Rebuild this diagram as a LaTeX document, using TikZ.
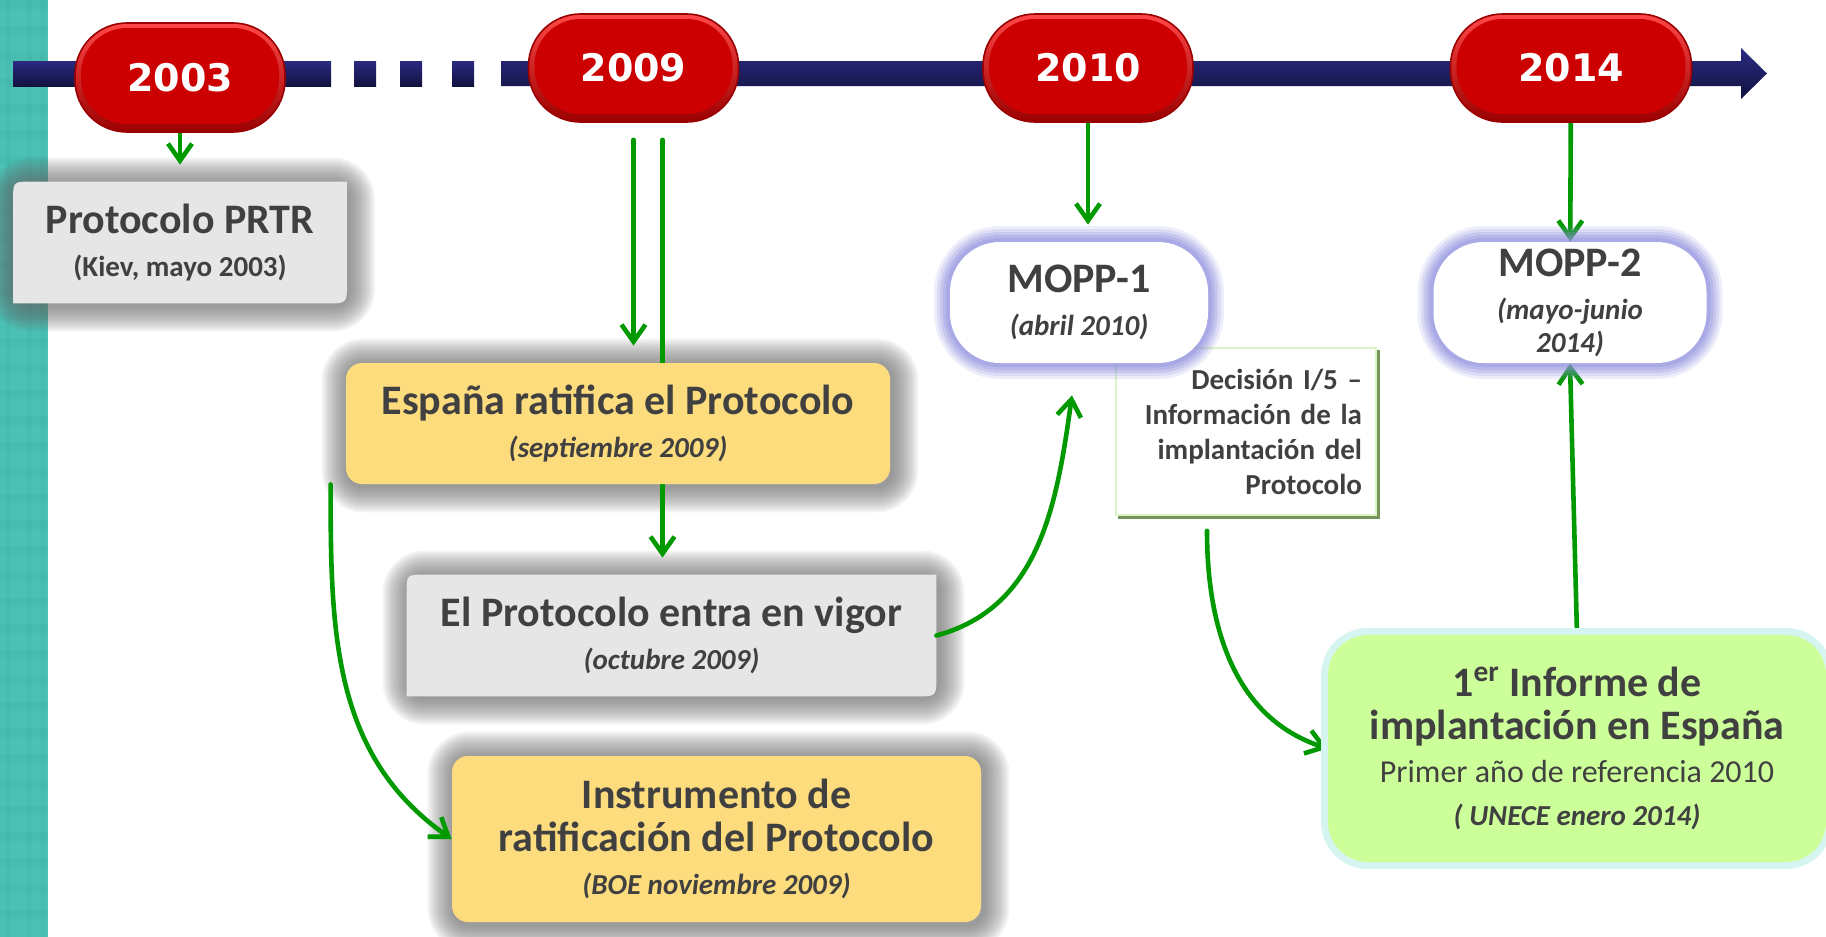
\documentclass[tikz,border=0pt]{standalone}
\usepackage{fontspec}
\setmainfont{Carlito}
\newfontfamily\yearfont{DejaVu Sans}
\usepackage{tikz}
\usetikzlibrary{arrows.meta, calc, positioning}
\usepackage{xcolor}
\definecolor{Teal}{HTML}{4BC1B5}
\definecolor{TealDark}{HTML}{3AA89C}
\definecolor{Navy}{HTML}{2A2A82}
\definecolor{DeepNavy}{HTML}{121240}
\definecolor{PillRed}{HTML}{CC0000}
\definecolor{PillLite}{HTML}{FF4848}
\definecolor{PillDark}{HTML}{9A0000}
\definecolor{Ink}{HTML}{404040}
\definecolor{Sand}{HTML}{FDDC7E}
\definecolor{Fog}{HTML}{E6E6E6}
\definecolor{Lime}{HTML}{CCFF99}
\definecolor{Halo}{HTML}{8F8FDE}
\definecolor{Mist}{HTML}{D6F4F0}
\definecolor{Leaf}{HTML}{009900}
\definecolor{Olive}{HTML}{76955A}
\definecolor{Sprout}{HTML}{DCF5C6}
\definecolor{Shade}{HTML}{666666}
\newcommand{\when}[1]{{\fontsize{14.5}{17}\selectfont\itshape #1}}
\newcommand{\where}[1]{{\fontsize{14.5}{17}\selectfont #1}}
\pgfdeclarelayer{shadow}
\pgfdeclarelayer{lines}
\pgfsetlayers{shadow,lines,main}
\tikzset{%
  year/.style={%
    rectangle,%
    rounded corners=26pt,%
    inner sep=0pt,%
    minimum width=105pt,%
    minimum height=54pt,%
    draw=PillDark,%
    line width=0.8pt,%
    top color=PillLite,%
    bottom color=PillDark,%
    path picture={%
      \fill[PillRed, rounded corners=23pt]
        ([shift={(3pt,-2.5pt)}]path picture bounding box.north west)
        rectangle
        ([shift={(-3pt,4pt)}]path picture bounding box.south east);%
    },%
    text=white,%
    font={\yearfont\bfseries\fontsize{19}{19}\selectfont},%
  },
  plate/.style={%
    rectangle,%
    inner sep=0pt,%
    align=center,%
    text=Ink,%
    font={\bfseries\fontsize{21}{21.5}\selectfont},%
  },
  sandbox/.style={%
    plate,%
    fill=Sand,%
    rounded corners=8pt,%
  },
  moppbox/.style={%
    plate,%
    fill=white,%
    rounded corners=25pt,%
    preaction={draw=Halo, line width=16pt, opacity=0.15},%
    preaction={draw=Halo, line width=13pt, opacity=0.2},%
    preaction={draw=Halo, line width=10pt, opacity=0.25},%
    preaction={draw=Halo, line width=7pt, opacity=0.3},%
    preaction={draw=Halo, line width=4pt, opacity=0.35},%
  },
  notebox/.style={%
    rectangle,%
    fill=white,%
    draw=Sprout,%
    line width=0.8pt,%
    align=right,%
    text=Ink,%
    text width=116pt,%
    inner xsep=7pt,%
    minimum height=83.5pt,%
    font={\bfseries\fontsize{14.5}{17.5}\selectfont},%
  },
  reportbox/.style={%
    plate,%
    fill=Lime,%
    rounded corners=20pt,%
    preaction={draw=Mist, line width=7pt},%
  },
  glow/.style={%
    draw=Shade,%
    opacity=0.08,%
    rounded corners=8pt,%
  },
  flow/.style={%
    draw=Leaf,%
    line width=2.3pt,%
    line cap=round,%
    -{Straight Barb[length=8.5pt, width=12pt]},%
  },
}
\begin{document}
\begin{tikzpicture}[x=0.5pt, y=-0.5pt]
  \useasboundingbox (0,0) rectangle (1826,937);
  \begin{pgfonlayer}{shadow}
    \fill[Teal] (0,0) rectangle (48,937);
    \foreach \row in {0,26,...,910}
      \fill[TealDark, opacity=0.2] (0,\row) rectangle (48,\row+9);
    \foreach \col in {6,27,40}
      \fill[TealDark, opacity=0.2] (\col,0) rectangle (\col+5,937);
  \end{pgfonlayer}

  % time axis
  \shade[top color=Navy, bottom color=DeepNavy] (13,61) rectangle (331,86);
  \foreach \gap in {354,400,452}
    \shade[top color=Navy, bottom color=DeepNavy] (\gap,61) rectangle (\gap+22,86);
  \shade[top color=Navy, bottom color=DeepNavy]
    (501,61) -- (1741,61) -- (1741,48) -- (1767,73.5)
    -- (1741,99) -- (1741,86) -- (501,86) -- cycle;

  \node[year, minimum height=54.5pt] (y2003) at (180,77.5) {2003};
  \node[year] (y2009) at (633.5,68) {2009};
  \node[year] (y2010) at (1088,68) {2010};
  \node[year, minimum width=120.5pt] (y2014) at (1571,68) {2014};

  \node[plate, minimum width=166.5pt, minimum height=60.5pt] (prtr) at (180,242.5)
    {Protocolo PRTR\\\where{(Kiev, mayo 2003)}};
  \node[sandbox, minimum width=272pt, minimum height=60.5pt] (espana) at (618,423.5)
    {España ratifica el Protocolo\\\when{(septiembre 2009)}};
  \node[plate, minimum width=264.5pt, minimum height=60.5pt] (vigor) at (671.5,635.5)
    {El Protocolo entra en vigor\\\when{(octubre 2009)}};
  \node[sandbox, minimum width=264.5pt, minimum height=83pt] (instrumento) at (716.5,839)
    {Instrumento de\\ratificación del Protocolo\\\when{(BOE noviembre 2009)}};
  \node[notebox] (decision) at (1246,431.5)
    {Decisión I/5 –\\Información de la\\implantación del\\Protocolo};
  \node[moppbox, minimum width=129pt, minimum height=60.5pt] (mopp1) at (1079,302.5)
    {MOPP-1\\\when{(abril 2010)}};
  \node[moppbox, minimum width=136.5pt, minimum height=60.5pt] (mopp2) at (1570,302.5)
    {MOPP-2\\\when{(mayo-junio}\\[-5pt]\when{2014)}};
  \node[reportbox, minimum width=249pt, minimum height=113.5pt] (informe) at (1577,748.5)
    {1\textsuperscript{er} Informe de\\implantación en España\\%
     {\mdseries\fontsize{16}{19}\selectfont Primer año de referencia 2010}\\%
     \when{( UNECE enero 2014)}};

  \begin{pgfonlayer}{shadow}
    \foreach \nm in {prtr, espana, vigor, instrumento}
      \foreach \w in {1,...,13}
        \draw[glow, line width=2*\w pt]
          ([shift={(1pt,-1pt)}]\nm.south west) rectangle ([shift={(1pt,-1pt)}]\nm.north east);
    \fill[Olive]
      ([shift={(1.5pt,-1.5pt)}]decision.south west) rectangle ([shift={(1.5pt,-1.5pt)}]decision.north east);
    \foreach \nm in {prtr, vigor}
      \fill[Fog]
        (\nm.south west) -- ([yshift=-9pt]\nm.north west)
        .. controls (\nm.north west) .. ([xshift=9pt]\nm.north west)
        -- (\nm.north east) -- ([yshift=10pt]\nm.south east)
        .. controls (\nm.south east) .. ([xshift=-10pt]\nm.south east)
        -- cycle;
  \end{pgfonlayer}

  \begin{pgfonlayer}{lines}
    \draw[flow, shorten >=8.5pt] (y2003) -- (prtr);
    \draw[flow, shorten <=8.5pt, shorten >=8.5pt]
      (y2009.south) -- (y2009.south |- espana.north);
    \coordinate (fork) at ([xshift=14.5pt]y2009.south);
    \draw[flow, shorten <=8.5pt, shorten >=8.5pt]
      (fork) -- (fork |- vigor.north);
    \draw[flow]
      ([xshift=-7.5pt]espana.south west) to[out=-90, in=145] (instrumento.west);
    \draw[flow]
      (vigor.east) to[out=15, in=-98] ([xshift=-3.5pt, yshift=-16pt]mopp1.south);
    \draw[flow, shorten >=8.5pt] (y2010.south) -- (y2010.south |- mopp1.north);
    \draw[flow] (y2014) -- (mopp2);
    \draw[flow] (informe.north) -- (mopp2.south);
    \draw[flow]
      ([xshift=-19.5pt, yshift=-7.5pt]decision.south) to[out=-90, in=162] (informe.west);
  \end{pgfonlayer}
\end{tikzpicture}
\end{document}
